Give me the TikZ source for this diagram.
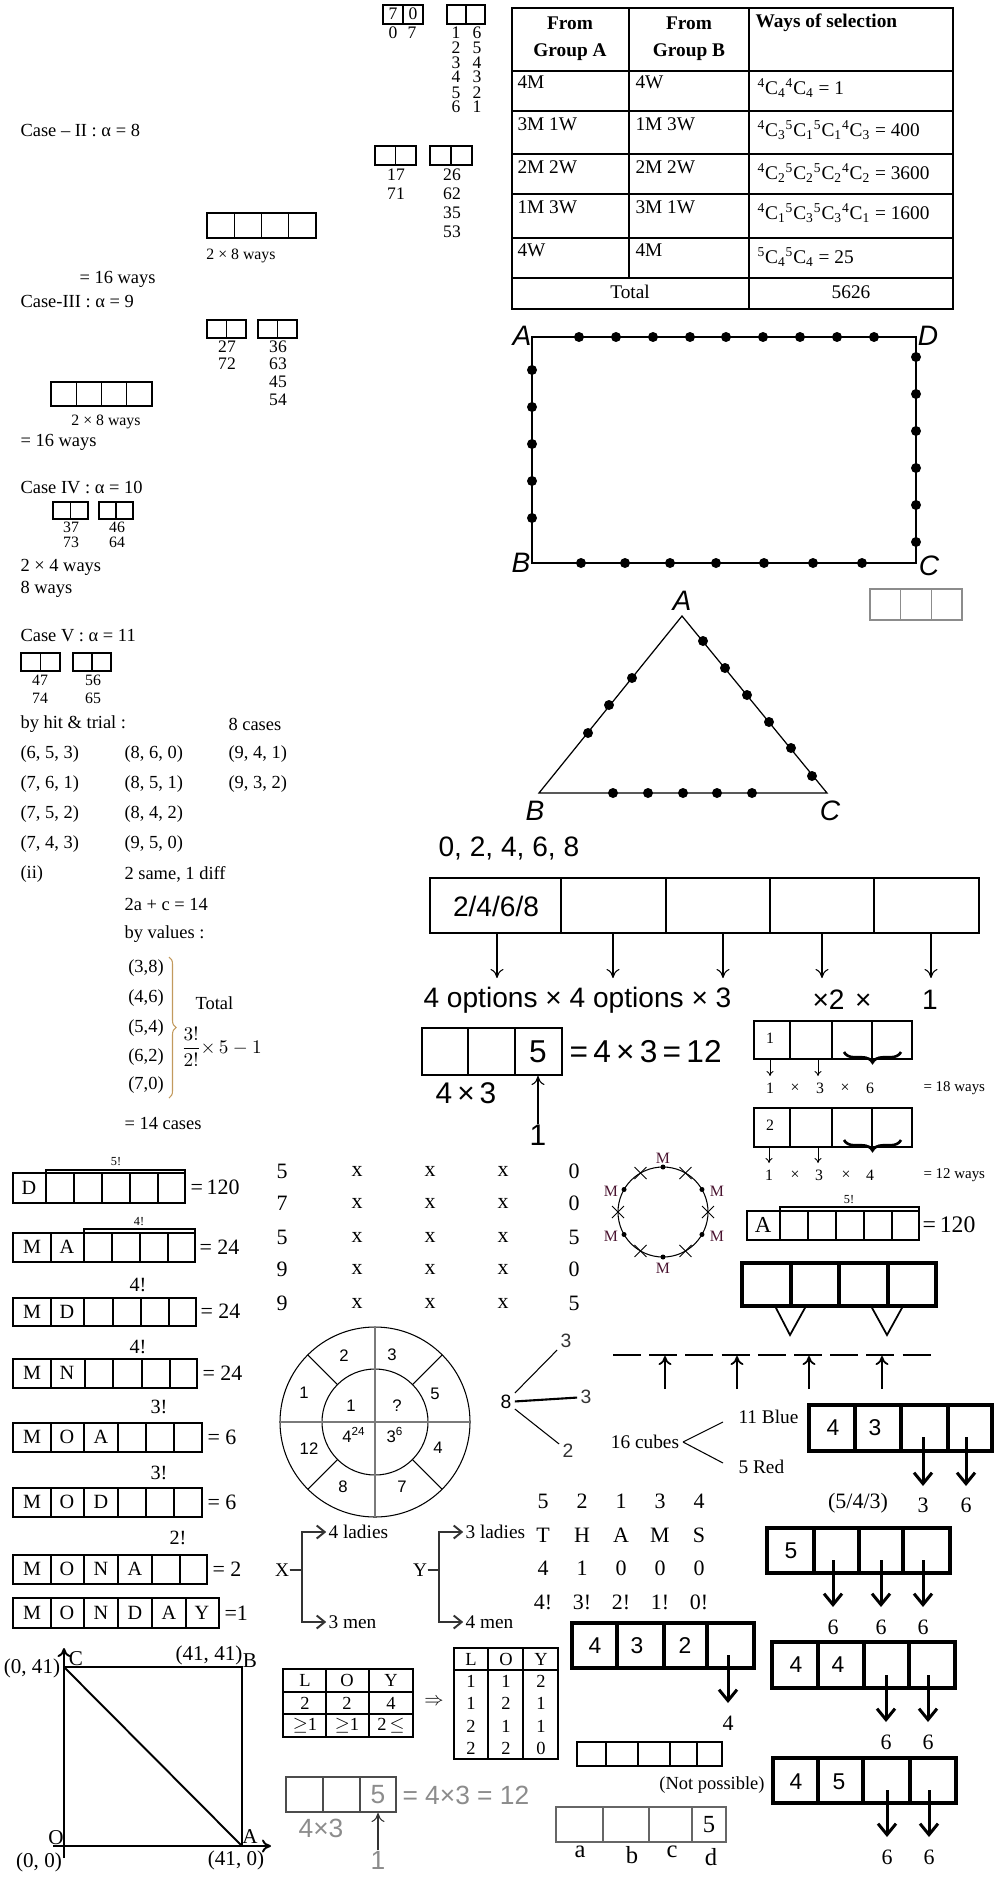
\documentclass[tikz,border=0pt]{standalone}
\usepackage{amsmath}
\usepackage{fontspec}
\setmainfont{Liberation Serif}
\newfontfamily\gothic{Liberation Sans}
\usetikzlibrary{arrows.meta,decorations.pathreplacing}
\definecolor{softgray}{HTML}{8C8C8C}
\definecolor{axisgray}{HTML}{7A7A7A}
\definecolor{bracetan}{HTML}{C29A5E}
\definecolor{inkgray}{HTML}{333333}
\definecolor{maroon}{HTML}{4A1430}
\newcommand{\fsz}[1]{\fontsize{#1}{#1}\selectfont}
\newcommand{\ncr}[2]{\textsuperscript{#1}C\textsubscript{#2}}
\newcommand{\cellrow}[6][]{%
  \draw[#1] (#2,#3) rectangle (#4,#5);
  \foreach \dx in {#6} {\draw[#1] (\dx,#3) -- (\dx,#5);}}
\tikzset{
  lbl/.style={inner sep=0pt, font=\fsz{10.5}},
  lbll/.style={lbl, anchor=west},
  dig/.style={inner sep=0pt, font=\fsz{10}},
  sml/.style={inner sep=0pt, font=\fsz{9}},
  tny/.style={inner sep=0pt, font=\fsz{7}},
  tab/.style={inner sep=0pt, font=\fsz{11}},
  hd/.style={inner sep=0pt, font=\fsz{11}\bfseries},
  let/.style={inner sep=0pt, font=\fsz{11.5}},
  eqn/.style={inner sep=0pt, anchor=west, font=\fsz{12.5}},
  big/.style={inner sep=0pt, font=\fsz{12.5}},
  gth/.style={inner sep=0pt, font=\gothic\fsz{16}},
  gthi/.style={inner sep=0pt, font=\gothic\itshape\fsz{16}},
  whl/.style={inner sep=0pt, font=\gothic\fsz{9.5}},
  sfd/.style={inner sep=0pt, font=\gothic\fsz{13}},
  tnode/.style={inner sep=0pt, outer sep=2pt},
  heavy/.style={line width=1.8pt},
  curly/.style={decorate, decoration={brace, mirror, amplitude=6pt}, line width=1.5pt},
  darr/.style={-{To[length=1.8mm,width=2.6mm]}},
  sarr/.style={-{To[length=1mm,width=1.4mm]}, line width=0.5pt},
  harr/.style={-{Straight Barb[length=2.2mm,width=3.6mm]}, line width=1.7pt},
  tarr/.style={-{Straight Barb[length=1.6mm,width=2.6mm]}, line width=1.1pt, draw=inkgray, shorten >=1pt}
}
\begin{document}
\begin{tikzpicture}[x=0.02cm, y=-0.02cm, line width=0.6pt]
  \useasboundingbox (0,0) rectangle (1000,1879);

  \cellrow{383}{5}{423}{24}{403}
  \node[dig] (b7) at (393,14) {7};
  \node[dig] (b0) at (413,14) {0};
  \node[dig] (c0) at (393,33) {0};
  \node[dig] (c7) at (412,33) {7};
  \cellrow{447}{5}{485}{24}{466}
  \foreach \a/\b/\yy [count=\i] in {1/6/33,2/5/48,3/4/63,4/3/77,5/2/93,6/1/107}{
    \node[dig] (pl\i) at (456,\yy) {\a};
    \node[dig] (pr\i) at (477,\yy) {\b};
  }
  \node[lbll] (case2) at (20,130) {Case – II : α = 8};
  \cellrow{375}{146}{416}{165}{395.5}
  \cellrow{430}{146}{472}{165}{451}
  \node[dig] (n17) at (396,175) {17};
  \node[dig] (n71) at (396,194) {71};
  \foreach \v/\yy in {26/175,62/194,35/213,53/232} \node[dig] (n\v) at (452,\yy) {\v};
  \cellrow{207}{213}{316}{238}{234.25,261.5,288.75}
  \node[sml] (ways2a) at (241,256) {2 × 8 ways};
  \node[lbll] (ways2b) at (79,279) {= 16 ways};

  \node[lbll] (case3) at (20,302) {Case-III : α = 9};
  \cellrow{207}{320}{246}{338}{226.5}
  \cellrow{258}{320}{297}{338}{277.5}
  \node[dig] (n27) at (227,347) {27};
  \node[dig] (n72) at (227,364) {72};
  \foreach \v/\yy in {36/347,63/364,45/382,54/400} \node[dig] (n\v) at (278,\yy) {\v};
  \cellrow{51}{382}{152}{406}{76.25,101.5,126.75}
  \node[sml] (ways3a) at (106,422) {2 × 8 ways};
  \node[lbll] (ways3b) at (20,442) {= 16 ways};

  \node[lbll] (case4) at (20,488) {Case IV : α = 10};
  \cellrow{53}{502}{88}{519}{70.5}
  \cellrow{99}{502}{133}{519}{116}
  \node[sml] (n37) at (71,527) {37};
  \node[sml] (n73) at (71,542) {73};
  \node[sml] (n46) at (117,527) {46};
  \node[sml] (n64) at (117,542) {64};
  \node[lbll] (ways4a) at (20,567) {2 × 4 ways};
  \node[lbll] (ways4b) at (20,589) {8 ways};

  \node[lbll] (case5) at (20,636) {Case V : α = 11};
  \cellrow{21}{653}{60}{671}{40.5}
  \cellrow{73}{653}{111}{671}{92}
  \node[sml] (n47) at (40,680) {47};
  \node[sml] (n74) at (40,698) {74};
  \node[sml] (n56) at (93,680) {56};
  \node[sml] (n65) at (93,698) {65};
  \node[lbll] (trial) at (20,724) {by hit \& trial :};
  \node[lbll] (eight) at (228,724) {8 cases};
  \node[lbll] (t1) at (20,754) {(6, 5, 3)};
  \node[lbll] (t2) at (124,754) {(8, 6, 0)};
  \node[lbll] (t3) at (228,754) {(9, 4, 1)};
  \node[lbll] (t4) at (20,784) {(7, 6, 1)};
  \node[lbll] (t5) at (124,784) {(8, 5, 1)};
  \node[lbll] (t6) at (228,784) {(9, 3, 2)};
  \node[lbll] (t7) at (20,814) {(7, 5, 2)};
  \node[lbll] (t8) at (124,814) {(8, 4, 2)};
  \node[lbll] (t9) at (20,844) {(7, 4, 3)};
  \node[lbll] (t10) at (124,844) {(9, 5, 0)};
  \node[lbll] (ii) at (20,874) {(ii)};
  \node[lbll] (same) at (124,874) {2 same, 1 diff};
  \node[lbll] (eqa) at (124,904) {2a + c = 14};
  \node[lbll] (byval) at (124,934) {by values :};
  \foreach \v/\yy [count=\i] in {{(3,8)}/968,{(4,6)}/998,{(5,4)}/1028,{(6,2)}/1057,{(7,0)}/1085}
    \node[lbl] (pair\i) at (146,\yy) {\v};
  \draw[bracetan, decorate, decoration={brace, amplitude=4pt}] (169,957) -- (169,1098);
  \node[lbll] (total) at (195,1003) {Total};
  \node[lbll] (frac) at (181,1047) {$\dfrac{3!}{2!}{\times}\,5-1$};
  \node[lbll] (cases14) at (124,1123) {= 14 cases};

  \draw (512,8) rectangle (953,309);
  \foreach \yy in {71,111,154,194,238,278} \draw (512,\yy) -- (953,\yy);
  \draw (629,8) -- (629,278);
  \draw (749,8) -- (749,309);
  \node[hd] (fa1) at (570,23) {From};
  \node[hd] (fa2) at (570,52) {Group A};
  \node[hd] (fb1) at (689,23) {From};
  \node[hd] (fb2) at (689,52) {Group B};
  \node[hd, anchor=west] (wsel) at (755,23) {Ways of selection};
  \foreach \a/\b/\yy [count=\i] in {4M/4W/82,3M 1W/1M 3W/124,2M 2W/2M 2W/167,1M 3W/3M 1W/207,4W/4M/250}{
    \node[tab, anchor=west] (ga\i) at (517,\yy) {\a};
    \node[tab, anchor=west] (gb\i) at (635,\yy) {\b};
  }
  \node[tab, anchor=west] (w1) at (757,88) {\ncr44\ncr44 = 1};
  \node[tab, anchor=west] (w2) at (757,130) {\ncr43\ncr51\ncr51\ncr43 = 400};
  \node[tab, anchor=west] (w3) at (757,173) {\ncr42\ncr52\ncr52\ncr42 = 3600};
  \node[tab, anchor=west] (w4) at (757,213) {\ncr41\ncr53\ncr53\ncr41 = 1600};
  \node[tab, anchor=west] (w5) at (757,257) {\ncr54\ncr54 = 25};
  \node[tab] (tot) at (630,292) {Total};
  \node[tab] (totv) at (851,292) {5626};

  \draw[line width=0.8pt] (532,337) rectangle (916,563);
  \foreach \xx in {579,616,653,690,726,763,800,837,874} \fill (\xx,337) circle[radius=5];
  \foreach \yy in {370,407,444,481,518} \fill (532,\yy) circle[radius=5];
  \foreach \yy in {357,394,431,468,505,542} \fill (916,\yy) circle[radius=5];
  \foreach \xx in {581,625,670,716,764,813,862} \fill (\xx,563) circle[radius=5];
  \node[gthi] (ra) at (522,336) {A};
  \node[gthi] (rd) at (928,336) {D};
  \node[gthi] (rb) at (521,563) {B};
  \node[gthi] (rc) at (929,566) {C};
  \cellrow[draw=softgray]{870}{589}{962}{620}{900.7,931.3}

  \draw[line width=0.7pt] (682,616) -- (539,793) -- (827,793) -- cycle;
  \foreach \xx/\yy in {632/678,609/705,588/733,703/641,725/668,747/695,769/722,791/748,812/776,613/793,648/793,683/793,717/793,752/793}
    \fill (\xx,\yy) circle[radius=5];
  \node[gthi] (ta) at (682,601) {A};
  \node[gthi] (tb) at (535,811) {B};
  \node[gthi] (tc) at (830,811) {C};

  \node[gth, anchor=west] (evens) at (438,848) {0, 2, 4, 6, 8};
  \cellrow{430}{878}{979}{933}{561,666,770,874}
  \node[gth] (slot1) at (496,906) {2/4/6/8};
  \foreach \xx in {497,613,723,822,931} \draw[darr] (\xx,933) -- (\xx,978);
  \node[gth, anchor=west] (opts) at (423,1000) {4 options × 4 options × 3};
  \node[gth, anchor=west] (opts2) at (812,1000) {×2\hspace{6pt}×};
  \node[gth] (opt1) at (930,1000) {1};
  \cellrow{422}{1028}{562}{1075}{468,515}
  \node[gth, font=\gothic\fsz{18}] (five) at (538,1052) {5};
  \node[gth, font=\gothic\fsz{18}, anchor=west] (prod) at (569,1052) {=\,4\,×\,3\,=\,12};
  \node[gth, font=\gothic\fsz{17}] (fx) at (466,1093) {4\,×\,3};
  \node[gth, font=\gothic\fsz{17}] (fone) at (538,1135) {1};
  \draw[darr] (fone.north) -- (538,1076);

  \cellrow{754}{1021}{912}{1059}{790,832,872}
  \node[sml] (one) at (770,1038) {1};
  \draw[curly] (844,1052) -- (901,1052);
  \draw[sarr] (770,1059) -- (770,1076);
  \draw[sarr] (818,1059) -- (818,1076);
  \foreach \v/\xx [count=\i] in {1/770,×/795,3/820,×/845,6/870} \node[sml] (ra\i) at (\xx,1088) {\v};
  \node[sml, anchor=west, font=\fsz{8.5}] (w18) at (923,1088) {= 18 ways};
  \cellrow{754}{1108}{912}{1147}{790,832,872}
  \node[sml] (two) at (770,1125) {2};
  \draw[curly] (844,1140) -- (901,1140);
  \draw[sarr] (769,1147) -- (769,1163);
  \draw[sarr] (818,1147) -- (818,1163);
  \foreach \v/\xx [count=\i] in {1/769,×/795,3/819,×/846,4/870} \node[sml] (rb\i) at (\xx,1175) {\v};
  \node[sml, anchor=west, font=\fsz{8.5}] (w12) at (923,1175) {= 12 ways};

  \cellrow{747}{1211}{919}{1240}{780,808,836,864,892}
  \draw (780,1211) -- (780,1207) -- (919,1207) -- (919,1211);
  \node[tny] (af) at (849,1200) {5!};
  \node[let, font=\fsz{13}] (abox) at (763,1225) {A};
  \node[eqn, font=\fsz{13.5}] (a120) at (922,1225) {=\,120};

  \draw (663,1212) circle[radius=45];
  \foreach \a in {30,90,...,330} \fill ({663+45*cos(\a)},{1212-45*sin(\a)}) circle[radius=2.5];
  \foreach \a in {0,60,...,300}
    \draw[line width=0.5pt, shift={({663+45*cos(\a)},{1212-45*sin(\a)})}] (-6,-6) -- (6,6) (-6,6) -- (6,-6);
  \foreach \xx/\yy [count=\i] in {663/1158,611/1191,717/1191,611/1236,717/1236,663/1268}
    \node[inner sep=0pt, font=\fsz{9}, text=maroon] (m\i) at (\xx,\yy) {M};

  \cellrow[heavy]{742}{1263}{936}{1306}{791,839,888}
  \draw[line width=1pt] (775,1306) -- (790,1335) -- (806,1306);
  \draw[line width=1pt] (871,1306) -- (887,1335) -- (903,1306);
  \foreach \k in {0,...,8} \draw[line width=1pt] ({613+36.2*\k},1355) -- ({641+36.2*\k},1355);
  \foreach \xx in {665,737,809,882} \draw[darr, line width=1pt] (\xx,1389) -- (\xx,1356);

  \node[lbl, font=\fsz{11}] (cubes) at (645,1442) {16 cubes};
  \node[lbll, font=\fsz{11}] (blue) at (738,1417) {11 Blue};
  \node[lbll, font=\fsz{11}] (red) at (738,1467) {5 Red};
  \draw (683,1442) -- (723,1422);
  \draw (683,1442) -- (723,1463);
  \cellrow[heavy]{809}{1405}{992}{1451}{855,901,948}
  \node[sfd] (c4) at (833,1428) {4};
  \node[sfd] (c3) at (875,1428) {3};
  \draw[harr] (923,1437) -- (923,1486);
  \draw[harr] (966,1437) -- (966,1486);
  \node[big] (c543) at (858,1503) {(5/4/3)};
  \node[big] (c3b) at (923,1505) {3};
  \node[big] (c6b) at (966,1505) {6};

  \cellrow[heavy]{767}{1528}{950}{1573}{814,859,903}
  \node[sfd] (d5) at (791,1551) {5};
  \foreach \xx [count=\i] in {833,881,923}{
    \draw[harr] (\xx,1560) -- (\xx,1607);
    \node[big] (d6\i) at (\xx,1627) {6};
  }
  \cellrow[heavy]{772}{1642}{955}{1688}{818,864,909}
  \node[sfd] (e4a) at (796,1665) {4};
  \node[sfd] (e4b) at (838,1665) {4};
  \foreach \xx [count=\i] in {886,928}{
    \draw[harr] (\xx,1675) -- (\xx,1722);
    \node[big] (e6\i) at (\xx,1742) {6};
  }
  \cellrow[heavy]{773}{1758}{956}{1803}{818,863,910}
  \node[sfd] (f4) at (796,1782) {4};
  \node[sfd] (f5) at (839,1782) {5};
  \foreach \xx [count=\i] in {887,929}{
    \draw[harr] (\xx,1790) -- (\xx,1837);
    \node[big] (f6\i) at (\xx,1857) {6};
  }

  \foreach \row/\yy [count=\i] in {{5,2,1,3,4}/1501,{T,H,A,M,S}/1535,{4,1,0,0,0}/1568,{4!,3!,2!,1!,0!}/1602}{
    \foreach \v [count=\j] in \row \node[big] (th\i\j) at ({504+39*\j},\yy) {\v};
  }
  \cellrow[heavy]{572}{1623}{754}{1668}{617,664,707}
  \node[sfd] (g4) at (595,1646) {4};
  \node[sfd] (g3) at (637,1646) {3};
  \node[sfd] (g2) at (685,1646) {2};
  \draw[harr] (728,1655) -- (728,1703);
  \node[big] (g4b) at (728,1723) {4};
  \cellrow[line width=1.2pt]{577}{1742}{722}{1766}{606,638,670,697}
  \node[lbl] (notp) at (712,1785) {(Not possible)};
  \cellrow[draw=black!60, line width=1.2pt]{556}{1807}{726}{1842}{603,649,692}
  \node[big, font=\fsz{14}] (h5) at (709,1825) {5};
  \foreach \v/\xx/\yy in {a/580/1852,b/632/1855,c/672/1852,d/711/1857}
    \node[big, font=\fsz{14}] (lab\v) at (\xx,\yy) {\v};

  \foreach \a/\b/\yy [count=\i] in {5/0/1171,7/0/1203,5/5/1237,9/0/1269,9/5/1303}{
    \node[big] (xa\i) at (282,\yy) {\a};
    \foreach \xx [count=\j] in {357,430,503} \node[big] (xx\i\j) at (\xx,\yy) {x};
    \node[big] (xb\i) at (574,\yy) {\b};
  }

  \draw (375,1422) circle[radius=95];
  \draw (375,1422) circle[radius=53];
  \draw[axisgray, line width=1pt] (280,1422) -- (470,1422);
  \draw[axisgray, line width=1pt] (375,1327) -- (375,1517);
  \foreach \a in {45,135,225,315}
    \draw ({375+53*cos(\a)},{1422-53*sin(\a)}) -- ({375+95*cos(\a)},{1422-95*sin(\a)});
  \foreach \v/\xx/\yy [count=\i] in {2/344/1356,3/392/1355,1/304/1393,5/435/1394,12/309/1449,4/438/1448,8/343/1487,7/402/1487,1/351/1406,?/397/1406}
    \node[whl] (wh\i) at (\xx,\yy) {\v};
  \node[whl] (wh24) at (354,1435) {4\textsuperscript{24}};
  \node[whl] (wh36) at (395,1435) {3\textsuperscript{6}};

  \node[tnode, font=\gothic\fsz{11}] (root8) at (506,1402) {8};
  \node[tnode, font=\gothic\fsz{11}, text=inkgray] (br3a) at (566,1341) {3};
  \node[tnode, font=\gothic\fsz{11}, text=inkgray] (br3b) at (586,1397) {3};
  \node[tnode, font=\gothic\fsz{11}, text=inkgray] (br2) at (568,1451) {2};
  \draw (root8) -- (br3a);
  \draw[line width=1.2pt] (root8) -- (br3b);
  \draw (root8) -- (br2);

  \node[lbl, font=\fsz{11}] (xn) at (282,1570) {X};
  \node[lbll, font=\fsz{11}] (l4) at (328,1532) {4 ladies};
  \node[lbll, font=\fsz{11}] (m3) at (328,1622) {3 men};
  \draw[tarr] (xn.east) -- (302,1570) |- (l4.west);
  \draw[tarr] (xn.east) -- (302,1570) |- (m3.west);
  \node[lbl, font=\fsz{11}] (yn) at (420,1570) {Y};
  \node[lbll, font=\fsz{11}] (l3) at (465,1532) {3 ladies};
  \node[lbll, font=\fsz{11}] (m4) at (465,1622) {4 men};
  \draw[tarr] (yn.east) -- (439,1570) |- (l3.west);
  \draw[tarr] (yn.east) -- (439,1570) |- (m4.west);

  \cellrow{13}{1173}{185}{1203}{46,74,102,130,158}
  \node[let] (k1a) at (29,1188) {D};
  \draw (46,1173) -- (46,1170) -- (185,1170) -- (185,1173);
  \node[tny] (k1f) at (116,1162) {5!};
  \node[eqn] (k1e) at (190,1187) {=\,120};
  \cellrow{13}{1233}{195}{1262}{51,84,112,140,168}
  \node[let] (k2a) at (32,1247) {M};
  \node[let] (k2b) at (67,1247) {A};
  \draw (84,1233) -- (84,1229) -- (195,1229) -- (195,1233);
  \node[tny] (k2f) at (139,1222) {4!};
  \node[eqn] (k2e) at (199,1247) {= 24};
  \cellrow{13}{1298}{196}{1326}{51,84,113,141,169}
  \node[let] (k3a) at (32,1312) {M};
  \node[let] (k3b) at (67,1312) {D};
  \node[let] (k3f) at (138,1285) {4!};
  \node[eqn] (k3e) at (200,1311) {= 24};
  \cellrow{13}{1359}{197}{1388}{51,85,113,142,170}
  \node[let] (k4a) at (32,1373) {M};
  \node[let] (k4b) at (67,1373) {N};
  \node[let] (k4f) at (138,1347) {4!};
  \node[eqn] (k4e) at (202,1373) {= 24};
  \cellrow{13}{1423}{202}{1452}{51,84,118,146,174}
  \foreach \v/\xx [count=\i] in {M/32,O/67,A/101} \node[let] (k5\i) at (\xx,1437) {\v};
  \node[let] (k5f) at (159,1407) {3!};
  \node[eqn] (k5e) at (207,1437) {= 6};
  \cellrow{13}{1488}{202}{1517}{51,84,118,146,174}
  \foreach \v/\xx [count=\i] in {M/32,O/67,D/101} \node[let] (k6\i) at (\xx,1502) {\v};
  \node[let] (k6f) at (159,1473) {3!};
  \node[eqn] (k6e) at (207,1502) {= 6};
  \cellrow{13}{1555}{207}{1584}{51,84,118,152,180}
  \foreach \v/\xx [count=\i] in {M/32,O/67,N/101,A/135} \node[let] (k7\i) at (\xx,1569) {\v};
  \node[let] (k7f) at (178,1538) {2!};
  \node[eqn] (k7e) at (212,1569) {= 2};
  \cellrow{13}{1598}{219}{1628}{51,84,118,152,186}
  \foreach \v/\xx [count=\i] in {M/32,O/67,N/101,D/135,A/169,Y/202} \node[let] (k8\i) at (\xx,1613) {\v};
  \node[eqn] (k8e) at (224,1613) {=1};

  \draw[darr, line width=1.1pt] (64,1858) -- (64,1648);
  \draw[darr, line width=1.1pt] (53,1846) -- (271,1846);
  \coordinate (gc) at (64,1667);
  \coordinate (gb) at (242,1667);
  \coordinate (ga) at (242,1846);
  \draw[line width=1.1pt] (gc) -- (gb) -- (ga);
  \draw[line width=1.1pt] (gc) -- (ga);
  \node[let, font=\fsz{12}] (lc) at (32,1668) {(0, 41)};
  \node[let, font=\fsz{12}] (nc) at (76,1659) {C};
  \node[let, font=\fsz{12}] (lb) at (209,1655) {(41, 41)};
  \node[let, font=\fsz{12}] (nb) at (250,1661) {B};
  \node[let, font=\fsz{12}] (no) at (56,1838) {O};
  \node[let, font=\fsz{12}] (na) at (250,1837) {A};
  \node[let, font=\fsz{12}] (lo) at (39,1862) {(0, 0)};
  \node[let, font=\fsz{12}] (la) at (236,1860) {(41, 0)};

  \cellrow{283}{1669}{413}{1737}{326,369}
  \draw (283,1692) -- (413,1692);
  \draw (283,1714) -- (413,1714);
  \foreach \v/\xx/\yy [count=\i] in {L/305/1680,O/347/1680,Y/391/1680,2/305/1703,2/347/1703,4/391/1703}
    \node[lbl] (p\i) at (\xx,\yy) {\v};
  \node[lbl] (p7) at (305,1726) {$\geq$1};
  \node[lbl] (p8) at (347,1726) {$\geq$1};
  \node[lbl] (p9) at (391,1726) {2\,$\leq$};
  \node[lbl] (impl) at (434,1702) {$\Rightarrow$};
  \cellrow{454}{1648}{558}{1759}{488,523}
  \draw (454,1670) -- (558,1670);
  \foreach \row/\yy [count=\i] in {{L,O,Y}/1659,{1,1,2}/1681,{1,2,1}/1703,{2,1,1}/1726,{2,2,0}/1748}{
    \foreach \v [count=\j] in \row \node[lbl] (q\i\j) at ({436+35*\j},\yy) {\v};
  }

  \cellrow[draw=black!70]{286}{1777}{396}{1812}{323,360}
  \node[gth, text=softgray, font=\gothic\fsz{15}] (g5) at (378,1795) {5};
  \node[gth, text=softgray, font=\gothic\fsz{15}, anchor=west] (gprod) at (402,1795) {= 4×3 = 12};
  \node[gth, text=softgray, font=\gothic\fsz{15}] (gfx) at (321,1828) {4×3};
  \node[gth, text=softgray, font=\gothic\fsz{15}] (gone) at (378,1860) {1};
  \draw[darr, draw=inkgray] (gone.north) -- (378,1813);
\end{tikzpicture}
\end{document}
